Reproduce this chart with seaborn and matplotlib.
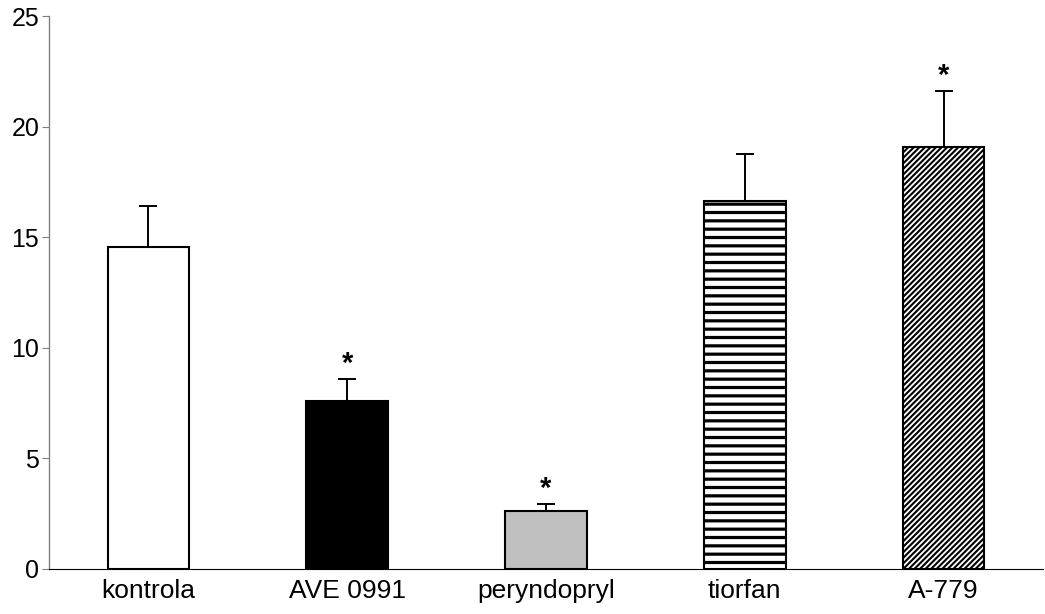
import matplotlib
matplotlib.use("Agg")
import matplotlib.pyplot as plt
import seaborn as sns
import pandas as pd

categories = ["kontrola", "AVE 0991", "peryndopryl", "tiorfan", "A-779"]
means = [14.55, 7.6, 2.64, 16.65, 19.08]
errors = [1.85, 1.0, 0.32, 2.1, 2.55]
significant = [False, True, True, False, True]
y_ticks = [0, 5, 10, 15, 20, 25]

bar_colors = ["white", "black", "#c0c0c0", "white", "white"]
hatches = [None, None, None, "--", "//////"]
hatch_widths = [None, None, None, 2.3, 1.5]

sns.set_style("white")
plt.rcParams["font.family"] = ["Liberation Sans", "DejaVu Sans"]
plt.rcParams["hatch.linewidth"] = 1.5
plt.rcParams["text.color"] = "black"
plt.rcParams["xtick.color"] = "black"
plt.rcParams["ytick.color"] = "black"

df = pd.DataFrame({"cat": categories, "val": means})

fig = plt.figure(figsize=(10.45, 6.14), dpi=100)
ax = fig.add_axes([49 / 1045, 45 / 614, (1043 - 49) / 1045, (569 - 16) / 614])

sns.barplot(data=df, x="cat", y="val", hue="cat", palette=bar_colors, legend=False,
            width=0.41, edgecolor="black", linewidth=1.5, ax=ax, errorbar=None, saturation=1)

for p, h, hw in zip(ax.patches, hatches, hatch_widths):
    if h:
        p.set_hatch(h)
        if hasattr(p, "set_hatch_linewidth"):
            p.set_hatch_linewidth(hw)

xs = list(range(len(categories)))
ax.errorbar(xs, means, yerr=[[0] * len(means), errors], fmt="none", ecolor="black",
            elinewidth=1.4, capsize=6.5, capthick=1.4, zorder=3)

for x, m, e, s in zip(xs, means, errors, significant):
    if s:
        ax.text(x, m + e + 0.3, "*", ha="center", va="baseline", fontsize=21,
                fontweight="bold", color="black")

ax.set_xlim(-0.5, len(categories) - 0.5)
ax.set_ylim(0, 25)
ax.set_yticks(y_ticks)
ax.set_xlabel("")
ax.set_ylabel("")
ax.set_xticks(xs)
ax.set_xticklabels(categories, fontsize=19, color="black")
ax.tick_params(axis="x", length=0, pad=7)
ax.set_xticks([x + 0.5 for x in xs], minor=True)
ax.tick_params(axis="x", which="minor", length=5, direction="out", width=0.8, color="black")
ax.tick_params(axis="y", length=5, direction="out", width=0.8, color="#808080",
               labelcolor="black", labelsize=18, pad=2, left=True)

for side in ["top", "right"]:
    ax.spines[side].set_visible(False)
ax.spines["left"].set_color("#808080")
ax.spines["left"].set_linewidth(1.0)
ax.spines["bottom"].set_color("black")
ax.spines["bottom"].set_linewidth(0.8)

fig.savefig("out.png", dpi=100)
